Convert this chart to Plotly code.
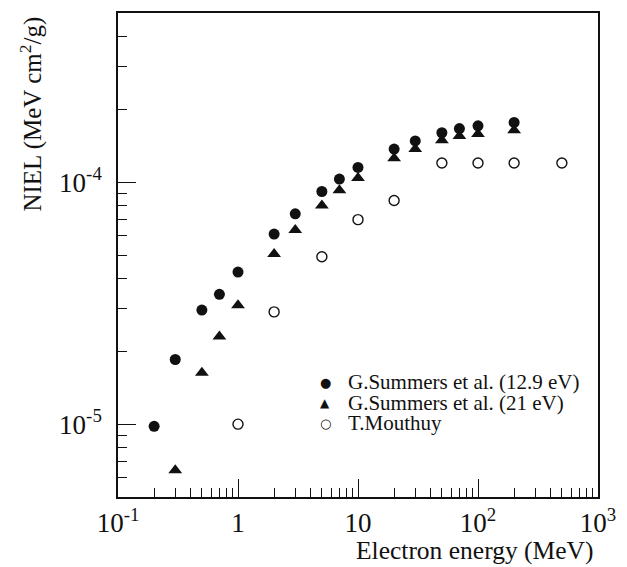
import plotly.graph_objects as go

# Electron energies (MeV) and NIEL values (MeV cm^2/g)
summers129_E = [0.2, 0.3, 0.5, 0.7, 1, 2, 3, 5, 7, 10, 20, 30, 50, 70, 100, 200]
summers129_niel = [9.8e-6, 1.85e-5, 2.96e-5, 3.44e-5, 4.25e-5, 6.1e-5, 7.4e-5,
                   9.15e-5, 1.03e-4, 1.15e-4, 1.37e-4, 1.48e-4, 1.6e-4,
                   1.665e-4, 1.71e-4, 1.765e-4]

summers21_E = [0.3, 0.5, 0.7, 1, 2, 3, 5, 7, 10, 20, 30, 50, 70, 100, 200]
summers21_niel = [6.45e-6, 1.63e-5, 2.3e-5, 3.1e-5, 5.05e-5, 6.35e-5, 8.0e-5,
                  9.25e-5, 1.04e-4, 1.255e-4, 1.37e-4, 1.49e-4, 1.55e-4,
                  1.58e-4, 1.64e-4]

mouthuy_E = [1, 2, 5, 10, 20, 50, 100, 200, 500]
mouthuy_niel = [1.0e-5, 2.91e-5, 4.92e-5, 7.0e-5, 8.4e-5, 1.2e-4, 1.2e-4,
                1.2e-4, 1.2e-4]

series_names = ["G.Summers et al. (12.9 eV)", "G.Summers et al. (21 eV)", "T.Mouthuy"]
key_glyphs = ["\u25CF", "\u25B2", "\u25CB"]

x_tickvals = [0.1, 1, 10, 100, 1000]
x_ticktext = ["10<sup>-1</sup>", "1", "10", "10<sup>2</sup>", "10<sup>3</sup>"]
y_tickvals = [1e-5, 1e-4]
y_ticktext = ["10<sup>-5</sup>", "10<sup>-4</sup>"]

x_minor = [m * 10 ** d for d in (-1, 0, 1, 2) for m in range(2, 10)]
y_minor = ([m * 1e-6 for m in range(6, 10)] + [m * 1e-5 for m in range(2, 10)]
           + [m * 1e-4 for m in range(2, 5)])

FONT = "Liberation Serif, Times New Roman, serif"
INK = "#111111"

fig = go.Figure()
fig.add_trace(go.Scatter(
    x=summers129_E, y=summers129_niel, mode="markers", name=series_names[0],
    marker=dict(symbol="circle", size=11, color=INK, line=dict(width=0)),
))
fig.add_trace(go.Scatter(
    x=summers21_E, y=summers21_niel, mode="markers", name=series_names[1],
    marker=dict(symbol="triangle-up", size=12, color=INK, line=dict(width=0)),
))
fig.add_trace(go.Scatter(
    x=mouthuy_E, y=mouthuy_niel, mode="markers", name=series_names[2],
    marker=dict(symbol="circle-open", size=10, color=INK,
                line=dict(width=1.4, color=INK)),
))

axis_common = dict(
    showgrid=False, zeroline=False, showline=True, mirror=True,
    linecolor=INK, linewidth=1.5,
    ticks="inside", ticklen=18, tickwidth=1.3, tickcolor=INK,
    tickfont=dict(family=FONT, size=27, color=INK),
)

fig.update_xaxes(
    type="log", range=[-1, 3],
    tickmode="array", tickvals=x_tickvals, ticktext=x_ticktext,
    ticklabelstandoff=1,
    minor=dict(tickmode="array", tickvals=x_minor, ticks="inside",
               ticklen=9, tickwidth=1.2, tickcolor=INK, showgrid=False),
    **axis_common,
)
fig.update_yaxes(
    type="log", range=[-5.301, -3.301],
    tickmode="array", tickvals=y_tickvals, ticktext=y_ticktext,
    ticklabelstandoff=9,
    minor=dict(tickmode="array", tickvals=y_minor, ticks="inside",
               ticklen=9, tickwidth=1.2, tickcolor=INK, showgrid=False),
    **axis_common,
)

# Legend key: glyph + label rows inside the lower-right of the frame
key_rows_y = [0.237, 0.194, 0.152]
key_sizes = [13, 12, 13]
annotations = []
for name, glyph, gy, gs in zip(series_names, key_glyphs, key_rows_y, key_sizes):
    annotations.append(dict(
        text=glyph, xref="paper", yref="paper", x=0.432, y=gy,
        xanchor="center", yanchor="middle", showarrow=False,
        font=dict(family="DejaVu Sans", size=gs, color=INK)))
    annotations.append(dict(
        text=name, xref="paper", yref="paper", x=0.475, y=gy,
        xanchor="left", yanchor="middle", showarrow=False,
        font=dict(family=FONT, size=21, color=INK)))

annotations += [
    dict(text="Electron energy (MeV)", xref="paper", yref="paper",
         x=0.993, y=-0.111, xanchor="right", yanchor="middle",
         showarrow=False, font=dict(family=FONT, size=25.5, color=INK)),
    dict(text="NIEL (MeV cm<sup>2</sup>/g)", xref="paper", yref="paper",
         x=-0.18, y=0.997, xanchor="center", yanchor="top",
         textangle=-90, showarrow=False,
         font=dict(family=FONT, size=25, color=INK)),
]

fig.update_layout(
    width=627, height=567,
    margin=dict(l=118, r=23, t=11, b=70),
    paper_bgcolor="white", plot_bgcolor="white",
    font=dict(family=FONT, color=INK),
    showlegend=False,
    annotations=annotations,
)

fig.write_html("out.html")
